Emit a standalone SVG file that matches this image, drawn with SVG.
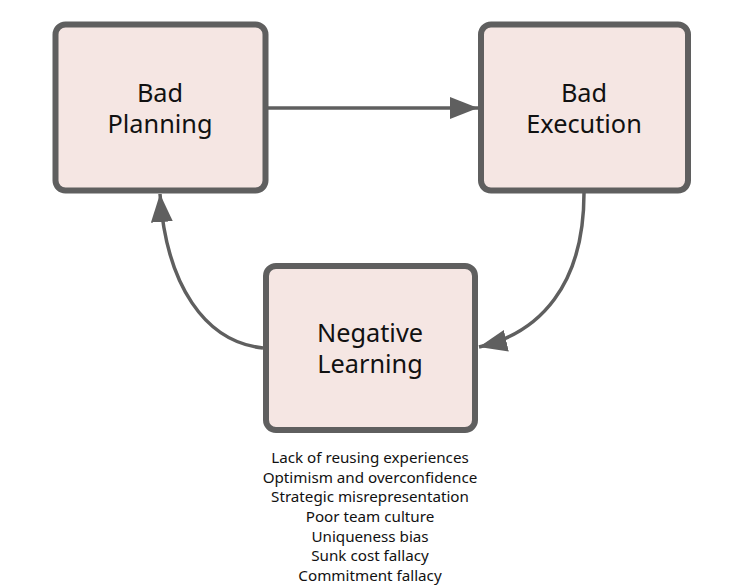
<svg xmlns="http://www.w3.org/2000/svg" width="745" height="588" viewBox="0 0 745 588">
<style>
.box{fill:#f5e6e3;stroke:#5f5f5f;stroke-width:6}
.lbl{font-family:"Noto Sans","Liberation Sans",sans-serif;font-size:25.3px;fill:#111;text-anchor:middle}
.note{font-family:"Noto Sans","Liberation Sans",sans-serif;font-size:15.2px;fill:#111;text-anchor:middle}
.edge{fill:none;stroke:#5f5f5f;stroke-width:3.5}
</style>
<defs>
<marker id="arr" markerUnits="userSpaceOnUse" markerWidth="30" markerHeight="24" refX="28" refY="11" orient="auto">
<path d="M0,0 L28,11 L0,22 Z" fill="#5f5f5f"/>
</marker>
</defs>
<rect width="745" height="588" fill="#fff"/>
<g id="connectors">
<path class="edge" d="M268,108 L478,108" marker-end="url(#arr)"/>
<path class="edge" d="M584,193 C584,285 540,333 479,347" marker-end="url(#arr)"/>
<path class="edge" d="M263,348 C205,342 166,285 160,194" marker-end="url(#arr)"/>
</g>
<g id="bad-planning">
<rect class="box" x="55.5" y="24.5" width="210" height="166" rx="10"/>
<text class="lbl" x="160" y="102">Bad</text>
<text class="lbl" x="160" y="133">Planning</text>
</g>
<g id="bad-execution">
<rect class="box" x="481" y="24.5" width="207" height="166" rx="10"/>
<text class="lbl" x="584" y="102">Bad</text>
<text class="lbl" x="584" y="133">Execution</text>
</g>
<g id="negative-learning">
<rect class="box" x="266" y="266" width="209" height="164" rx="10"/>
<text class="lbl" x="370" y="342">Negative</text>
<text class="lbl" x="370" y="373">Learning</text>
</g>
<g id="causes">
<text class="note" x="370" y="463">Lack of reusing experiences</text>
<text class="note" x="370" y="482.7">Optimism and overconfidence</text>
<text class="note" x="370" y="502.3">Strategic misrepresentation</text>
<text class="note" x="370" y="522">Poor team culture</text>
<text class="note" x="370" y="541.7">Uniqueness bias</text>
<text class="note" x="370" y="561.3">Sunk cost fallacy</text>
<text class="note" x="370" y="581">Commitment fallacy</text>
</g>
</svg>
